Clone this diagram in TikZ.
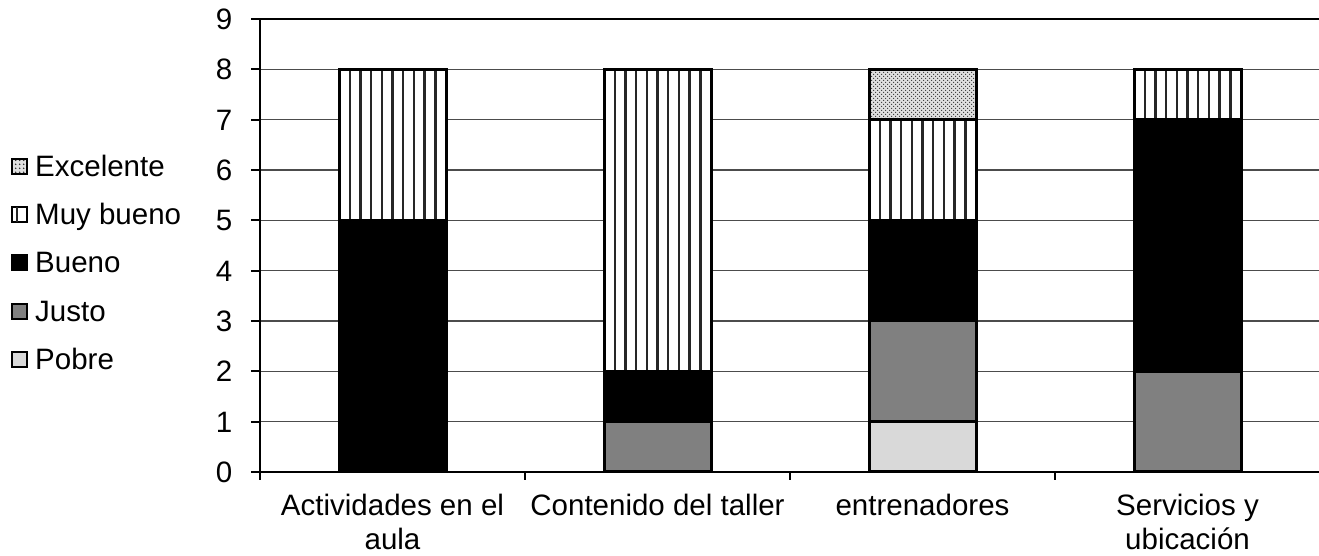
\documentclass[tikz,border=0pt]{standalone}
\usepackage{fontspec}
\setmainfont{Liberation Sans}
\usetikzlibrary{patterns.meta}
\begin{document}
\begin{tikzpicture}[x=1pt,y=1pt,
  lbl/.style={font=\fontsize{29.5}{35}\selectfont, inner sep=0pt},
  gridln/.style={line width=1.4pt, black!70},
  axisln/.style={line width=2pt, black},
  seg/.style={draw=black, line width=3pt},
  stripe/.style={line width=2.4pt, black!85},
  bueno/.style={fill=black},
  justo/.style={fill=black!50},
  pobre/.style={fill=black!15},
  legbox/.style={draw=black, line width=2pt}]
\useasboundingbox (0,0) rectangle (1319,556);
% grid
\foreach \i in {1,...,8} \draw[gridln] (260,{84+\i*50.333}) -- (1319,{84+\i*50.333});
\draw[line width=2.4pt] (260,537) -- (1319,537);
% y ticks and labels
\foreach \i in {0,...,9} {
  \draw[axisln] (251,{84+\i*50.333}) -- (260,{84+\i*50.333});
  \node[lbl, anchor=base east] (y\i) at (232.5,{84+\i*50.333-10.5}) {\i};
}
% x ticks
\foreach \x in {260,525,790,1055} \draw[axisln] (\x,76) -- (\x,84);
% bars: helper macros
\newcommand\mystripes[3]{% left, bottom value, top value
  \fill[white] (#1,{84+#2*50.333}) rectangle ({#1+107},{84+#3*50.333});
  \foreach \k in {1,...,9} \draw[stripe] ({#1+\k*10.7},{84+#2*50.333}) -- ({#1+\k*10.7},{84+#3*50.333});
  \draw[seg] (#1,{84+#2*50.333}) rectangle ({#1+107},{84+#3*50.333});
}
\newcommand\mysolid[4]{% style, left, bottom, top
  \draw[seg,#1] (#2,{84+#3*50.333}) rectangle ({#2+107},{84+#4*50.333});
}
\newcommand\mydots[3]{%
  \fill[black!12] (#1,{84+#2*50.333}) rectangle ({#1+107},{84+#3*50.333});
  \fill[pattern={Dots[distance=4pt,radius=0.9pt]}, pattern color=black!80] (#1,{84+#2*50.333}) rectangle ({#1+107},{84+#3*50.333});
  \fill[pattern={Dots[distance=4pt,radius=0.9pt,xshift=2pt,yshift=2pt]}, pattern color=black!80] (#1,{84+#2*50.333}) rectangle ({#1+107},{84+#3*50.333});
  \draw[seg] (#1,{84+#2*50.333}) rectangle ({#1+107},{84+#3*50.333});
}
% bar 1
\mysolid{bueno}{339}{0}{5}
\mystripes{339}{5}{8}
% bar 2
\mysolid{justo}{604}{0}{1}
\mysolid{bueno}{604}{1}{2}
\mystripes{604}{2}{8}
% bar 3
\mysolid{pobre}{869}{0}{1}
\mysolid{justo}{869}{1}{3}
\mysolid{bueno}{869}{3}{5}
\mystripes{869}{5}{7}
\mydots{869}{7}{8}
% bar 4
\mysolid{justo}{1134}{0}{2}
\mysolid{bueno}{1134}{2}{7}
\mystripes{1134}{7}{8}
% axes on top
\draw[axisln] (260,84) -- (1319,84);
\draw[axisln] (260,76) -- (260,537);
% category labels
\node[lbl, anchor=base] (c1a) at (392.5,40) {Actividades en el};
\node[lbl, anchor=base] (c1b) at (392.5,6) {aula};
\node[lbl, anchor=base] (c2) at (657.5,40) {Contenido del taller};
\node[lbl, anchor=base] (c3) at (922.5,40) {entrenadores};
\node[lbl, anchor=base] (c4a) at (1187.5,40) {Servicios y};
\node[lbl, anchor=base] (c4b) at (1187.5,6) {ubicación};
% legend
\fill[black!12] (12,381.5) rectangle (27,396.5);
\fill[pattern={Dots[distance=4pt,radius=1pt]}, pattern color=black!85] (12,381.5) rectangle (27,396.5);
\draw[legbox] (12,381.5) rectangle (27,396.5);
\node[lbl, anchor=base west] (l1) at (35,379) {Excelente};
\draw[legbox, fill=white] (12,333.5) rectangle (27,348.5);
\draw[stripe] (17,333.5) -- (17,348.5);
\node[lbl, anchor=base west] (l2) at (35,331) {Muy bueno};
\draw[legbox, bueno] (12,285.5) rectangle (27,300.5);
\node[lbl, anchor=base west] (l3) at (35,283) {Bueno};
\draw[legbox, justo] (12,236.5) rectangle (27,251.5);
\node[lbl, anchor=base west] (l4) at (35,234) {Justo};
\draw[legbox, pobre] (12,188.5) rectangle (27,203.5);
\node[lbl, anchor=base west] (l5) at (35,186) {Pobre};
\end{tikzpicture}
\end{document}
